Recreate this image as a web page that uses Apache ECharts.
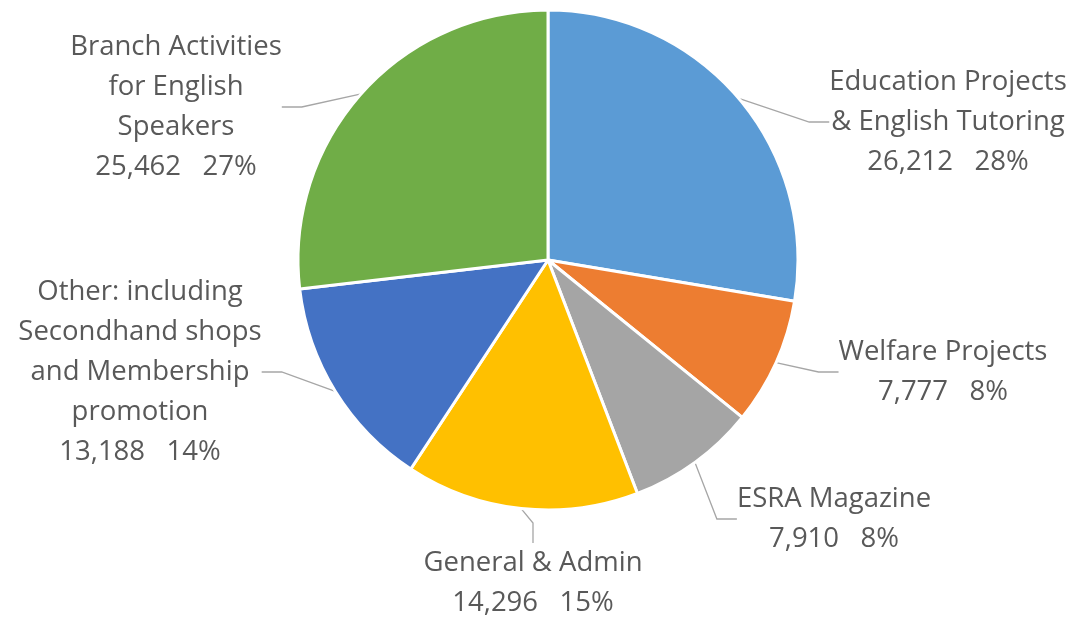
<!DOCTYPE html>
<html>
<head>
<meta charset="utf-8">
<script src="https://cdn.jsdelivr.net/npm/echarts@6/dist/echarts.min.js"></script>
<style>
  html, body { margin: 0; padding: 0; background: #fff; }
  #chart { width: 1081px; height: 620px; }
</style>
</head>
<body>
<div id="chart"></div>
<script>
// slices, clockwise from 12 o'clock
const categories = [
  'Education Projects\n& English Tutoring',
  'Welfare Projects',
  'ESRA Magazine',
  'General & Admin',
  'Other: including\nSecondhand shops\nand Membership\npromotion',
  'Branch Activities\nfor English\nSpeakers'
]
const amounts = [26212, 7777, 7910, 14296, 13188, 25462]
const colors = ['#5b9bd5', '#ed7d31', '#a5a5a5', '#ffc000', '#4472c4', '#70ad47']

// where each label block sits (centre of text block)
const labelSpots = [
  [948, 122],
  [943, 372],
  [834, 519],
  [533, 583],
  [140, 372],
  [176, 107]
]

const chart = echarts.init(document.getElementById('chart'))
chart.setOption({
  animation: false,
  series: [{
    type: 'pie',
    center: [548, 260],
    radius: 250,
    startAngle: 90,
    clockwise: true,
    percentPrecision: 0,
    data: categories.map((name, i) => ({
      name: name,
      value: amounts[i],
      itemStyle: { color: colors[i] }
    })),
    itemStyle: {
      borderColor: '#fff',
      borderWidth: 3
    },
    label: {
      show: true,
      position: 'outside',
      fontFamily: 'Open Sans',
      fontSize: 27.5,
      lineHeight: 40,
      color: '#595959',
      align: 'center',
      formatter: p => p.name + '\n' + p.value.toLocaleString('en-US') + '   ' + p.percent + '%'
    },
    labelLine: {
      show: true,
      length: 20,
      length2: 20,
      lineStyle: { color: '#a6a6a6', width: 1.3 }
    },
    labelLayout: params => {
      const spot = labelSpots[params.dataIndex]
      return {
        x: spot[0],
        y: spot[1],
        align: 'center',
        verticalAlign: 'middle'
      }
    }
  }]
})
</script>
</body>
</html>
